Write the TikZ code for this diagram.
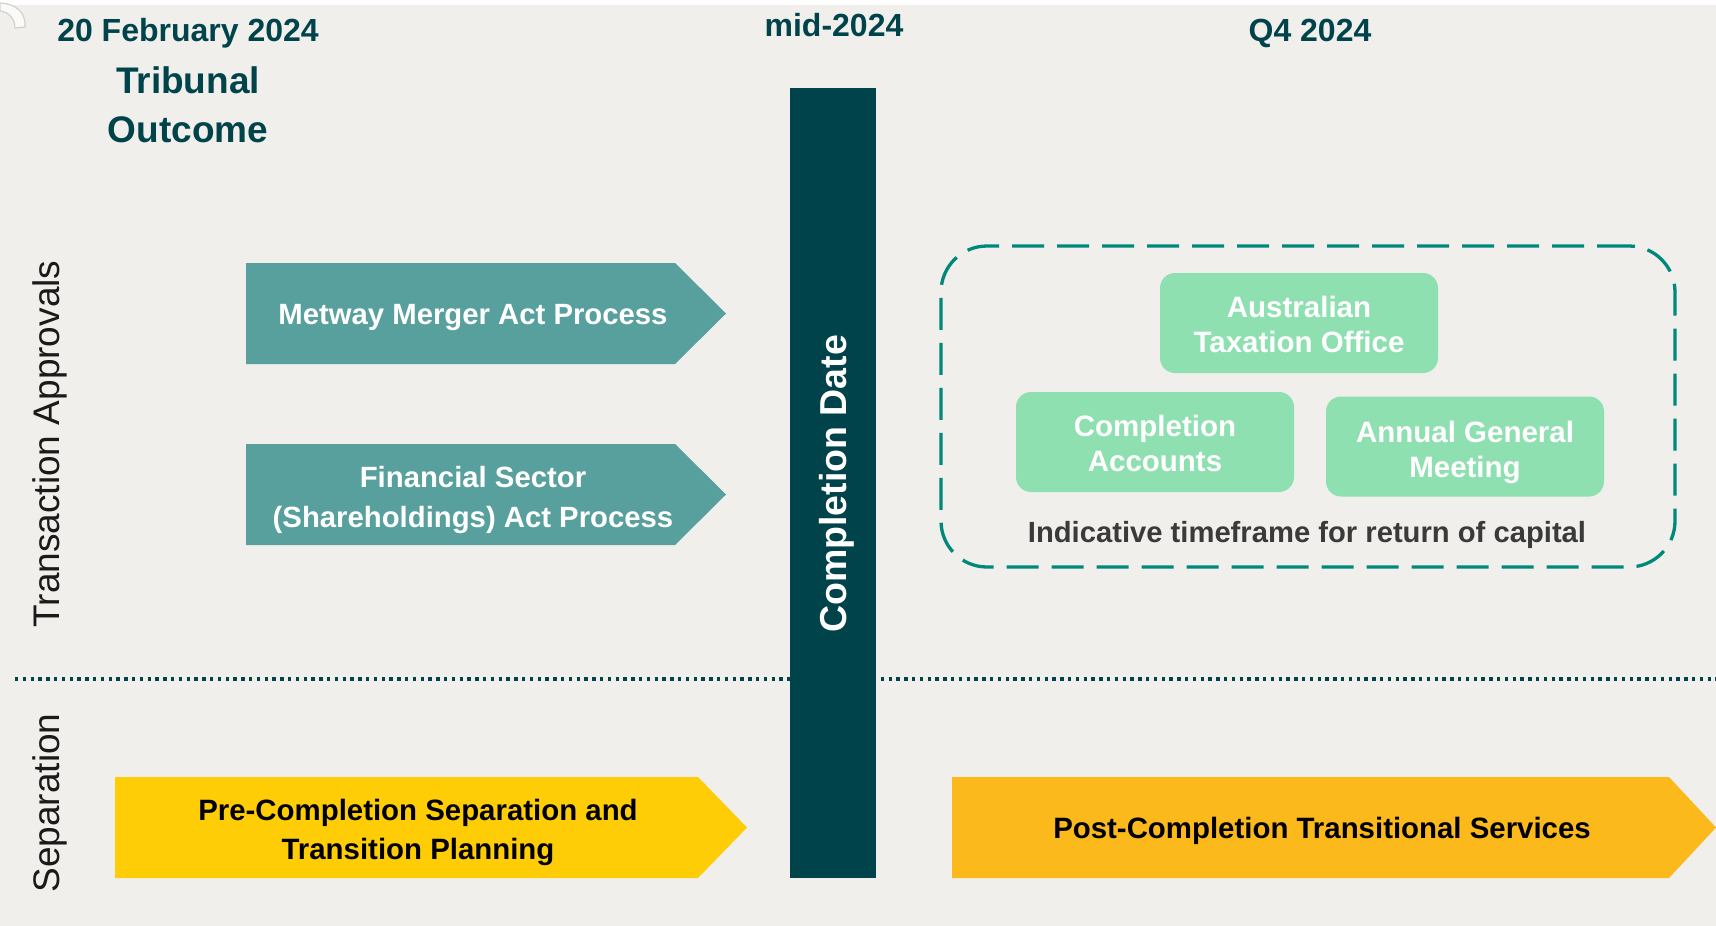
\documentclass[tikz,border=0pt]{standalone}
\usepackage{fontspec}
\setmainfont{Liberation Sans}

\definecolor{bg}{HTML}{F0EFEB}
\definecolor{deepteal}{HTML}{00434A}
\definecolor{midteal}{HTML}{58A09E}
\definecolor{mint}{HTML}{8EE0B0}
\definecolor{dashteal}{HTML}{00897B}
\definecolor{sun}{HTML}{FFCD05}
\definecolor{amber}{HTML}{FBB91C}
\definecolor{ink}{HTML}{3A3A3A}
\definecolor{labelink}{HTML}{1A1A1A}

\newcommand{\fsz}[2]{\fontsize{#1}{#2}\selectfont}

\tikzset{
  heading/.style={font=\bfseries\fsz{32}{40}, text=deepteal, inner sep=0, align=center},
  bigheading/.style={font=\bfseries\fsz{37}{49}, text=deepteal, inner sep=0, align=center},
  lanelabel/.style={font=\fsz{37}{44}, text=labelink, rotate=90, inner sep=0},
  chevtext/.style={font=\bfseries\fsz{29.3}{40}, text=white, align=center, inner sep=0},
  yellowtext/.style={font=\bfseries\fsz{29.4}{39}, text=black, align=center, inner sep=0},
  mintbox/.style={fill=mint, rounded corners=15pt, minimum width=278pt, minimum height=100pt,
    inner sep=0, font=\bfseries\fsz{29.5}{35}, text=white, align=center},
  minttext/.style={font=\bfseries\fsz{29.5}{35}, text=white, align=center, inner sep=0},
  lanerule/.style={deepteal, line width=3.3pt, dash pattern=on 3.3pt off 4.5pt},
}

\begin{document}
\begin{tikzpicture}[x=1pt,y=-1pt]
\useasboundingbox (0,0) rectangle (1716,926);
% page background
\fill[bg] (0,0) rectangle (1716,926);
\fill[white] (0,0) rectangle (1716,5);
% small page-curl mark in the corner
\draw[black!18, line width=1.2pt, fill=white!70!bg]
  (0,3) .. controls (17,4) and (26,13) .. (25,27) -- (15,28)
  .. controls (15,19) and (9,12) .. (0,11) -- cycle;

% lane separator and completion bar
\draw[lanerule] (15,679) -- (1716,679);
\node[fill=deepteal, minimum width=86pt, minimum height=790pt, inner sep=0] (bar) at (833,483) {};
\node[font=\bfseries\fsz{37.5}{40}, text=white, rotate=90, inner sep=0] (bartext) at (837,484) {Completion Date};

% column headings
\node[heading] (date1) at (188,33) {20 February 2024};
\node[bigheading] (tribunal) at (188,105) {Tribunal\\Outcome};
\node[heading] (date2) at (834,25) {mid-2024};
\node[heading] (date3) at (1310,33) {Q4 2024};

% lane labels
\node[lanelabel] (lane1) at (50,444) {Transaction Approvals};
\node[lanelabel] (lane2) at (50,803) {Separation};

% approval chevrons
\fill[midteal] (246,263) -- (675,263) -- (726,313.5) -- (675,364) -- (246,364) -- cycle;
\node[chevtext] (metway) at (473,318) {Metway Merger Act Process};
\fill[midteal] (246,444) -- (675,444) -- (726,494.5) -- (675,545) -- (246,545) -- cycle;
\node[chevtext] (fssa) at (473,500) {Financial Sector\\(Shareholdings) Act Process};

% separation chevrons
\fill[sun] (115,777) -- (698,777) -- (747,827.5) -- (698,878) -- (115,878) -- cycle;
\node[yellowtext] (precomp) at (418,832) {Pre-Completion Separation and\\Transition Planning};
\fill[amber] (952,777) -- (1669,777) -- (1716,827.5) -- (1669,878) -- (952,878) -- cycle;
\node[yellowtext] (postcomp) at (1322,831) {Post-Completion Transitional Services};

% return of capital window
\node[draw=dashteal, line width=3.3pt, dash pattern=on 32pt off 13pt, rounded corners=46pt,
  minimum width=734pt, minimum height=321pt, inner sep=0] (window) at (1308,406.5) {};
\node[mintbox] (ato) at (1299,323) {};
\node[minttext] (ato-text) at (1299,324) {Australian\\Taxation Office};
\node[mintbox] (accounts) at (1155,442) {};
\node[minttext] (accounts-text) at (1155,443) {Completion\\Accounts};
\node[mintbox] (agm) at (1465,446.5) {};
\node[minttext] (agm-text) at (1465,452) {Annual General\\Meeting};
\node[font=\bfseries\fsz{29.2}{35}, text=ink, inner sep=0] (window-note) at (1307,535) {Indicative timeframe for return of capital};
\end{tikzpicture}
\end{document}
